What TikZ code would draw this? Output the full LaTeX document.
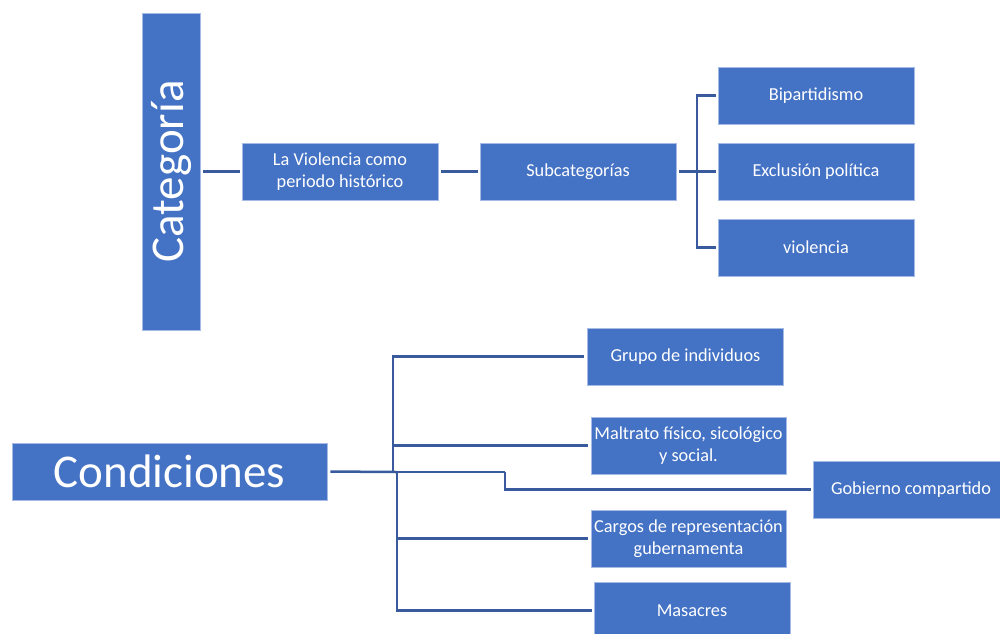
\documentclass[tikz,border=0pt]{standalone}
\usepackage{fontspec}
\usepackage{graphicx}
\setmainfont{Carlito}
\definecolor{boxblue}{HTML}{4472C4}
\definecolor{boxedge}{RGB}{165,186,228}
\definecolor{connblue}{RGB}{58,90,158}
\begin{document}
\begin{tikzpicture}[x=1pt,y=-1pt,
  box/.style={rectangle,fill=boxblue,draw=boxedge,line width=0.7pt,text=white,
    align=center,inner sep=0pt,minimum width=196pt,minimum height=57pt,
    font=\fontsize{18.3}{22}\selectfont},
  bigbox/.style={box,font=\fontsize{47}{56}\selectfont},
  conn/.style={draw=connblue,line width=2.5pt,line join=miter}]
\useasboundingbox (0,0) rectangle (1000,633);
\clip (0,0) rectangle (1000,633);
% top part
\node[bigbox,minimum width=58pt,minimum height=317pt] (cat) at (171,171.5) {\rotatebox{90}{Categoría}};
\node[box] (lavio) at (340,171.5) {La Violencia como\\periodo histórico};
\node[box] (sub) at (578,171.5) {Subcategorías};
\node[box] (bip) at (816,95.5) {Bipartidismo};
\node[box] (exc) at (816,171.5) {Exclusión política};
\node[box] (vio) at (816,247.5) {violencia};
\coordinate (jt) at (697,171.5);
\draw[conn,shorten <=3pt,shorten >=2pt] (cat.east) -- (lavio.west);
\draw[conn,shorten <=3pt,shorten >=2pt] (lavio.east) -- (sub.west);
\draw[conn,shorten <=3pt,shorten >=2pt] (sub.east) -- (exc.west);
\draw[conn,shorten >=2pt] (jt) |- (bip.west);
\draw[conn,shorten >=2pt] (jt) |- (vio.west);
% bottom part
\node[bigbox,minimum width=315pt] (cond) at (169.5,471.5) {Condiciones};
\node[box] (grupo) at (685.5,356.5) {Grupo de individuos};
\node[box,minimum width=195pt] (malt) at (688.5,445.5) {Maltrato físico, sicológico\\y social.};
\node[box] (gob) at (911,489.5) {Gobierno compartido};
\node[box,minimum width=195pt] (carg) at (688.5,538.5) {Cargos de representación\\gubernamenta};
\node[box] (mas) at (692,610.5) {Masacres};
\coordinate (j1) at (393,472);
\coordinate (j2) at (397,472);
\coordinate (g1) at (505,472);
\draw[conn,shorten <=3pt] (cond.east) -- (j2);
\draw[conn,shorten >=3pt] (j1) |- (grupo.west);
\draw[conn,shorten >=3pt] (j1) |- (malt.west);
\draw[conn] (j2) -- (g1);
\draw[conn,shorten >=2pt] (g1) |- (gob.west);
\draw[conn,shorten >=3pt] (j2) |- (carg.west);
\draw[conn,shorten >=2pt] (j2) |- (mas.west);
\end{tikzpicture}
\end{document}
